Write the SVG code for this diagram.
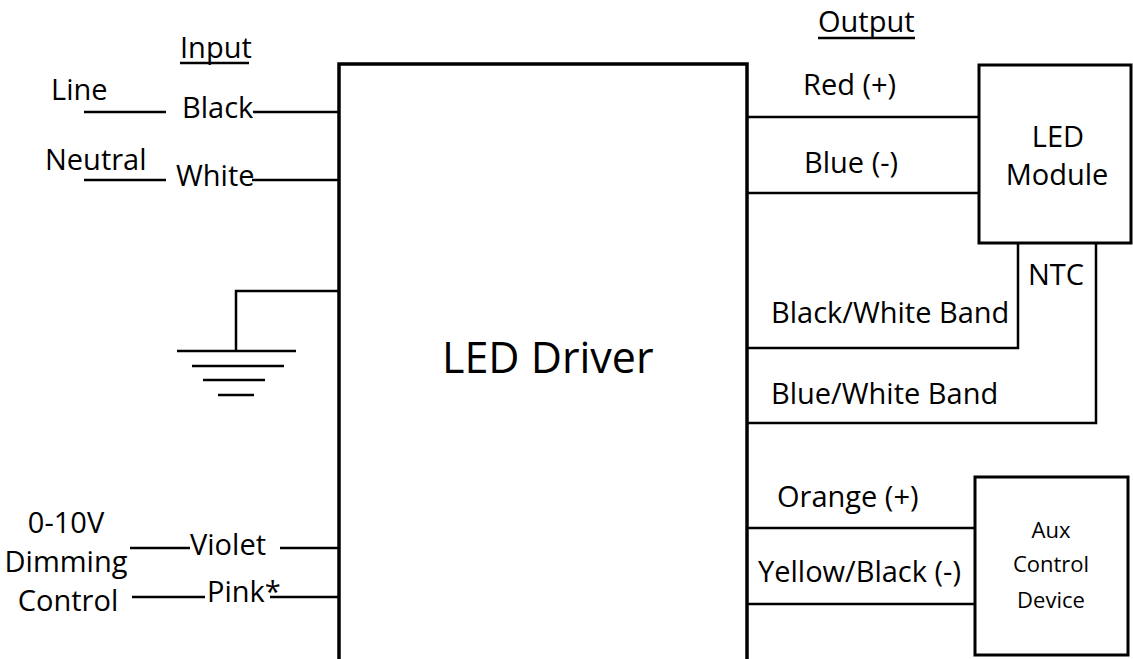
<svg xmlns="http://www.w3.org/2000/svg" width="1133" height="659" viewBox="0 0 1133 659">
<style>
text{font-family:"Open Sans","Noto Sans","DejaVu Sans",sans-serif;fill:#000;font-size:29px}
.w{stroke:#000;stroke-width:2.5;fill:none}
.box{stroke:#000;stroke-width:3;fill:#fff}
.big{font-size:43px}
.sm{font-size:22px}
.c{text-anchor:middle}
</style>
<rect width="1133" height="659" fill="#fff"/>
<g id="connectors">
<path class="w" d="M84 112H166M253 112H339"/>
<path class="w" d="M84 180H166M252 180H339"/>
<path class="w" d="M339 291H236V351"/>
<path class="w" d="M177 351H296M192 366H284M203 380H265M218 395H254"/>
<path class="w" d="M130 548H190M280 548H339"/>
<path class="w" d="M132 597H205M270 597H339"/>
<path class="w" d="M747 117H979M747 193H979"/>
<path class="w" d="M1018 243V348H747M1096 243V423H747"/>
<path class="w" d="M747 528H975M747 604H975"/>
<path class="w" d="M180 63H249M818 38H915"/>
</g>
<g id="driver">
<path d="M339 662V64H747V662" fill="none" stroke="#000" stroke-width="3.5"/>
<text class="big" x="442" y="373">LED Driver</text>
</g>
<g id="led-module">
<rect class="box" x="979" y="65" width="152" height="178"/>
<text class="c" x="1058" y="147">LED</text>
<text class="c" x="1057" y="185">Module</text>
</g>
<g id="aux-device">
<rect class="box" x="975" y="477" width="153" height="178"/>
<text class="c sm" x="1051" y="538">Aux</text>
<text class="c sm" x="1051" y="572">Control</text>
<text class="c sm" x="1051" y="608">Device</text>
</g>
<g id="labels">
<text x="180" y="58">Input</text>
<text x="818" y="32">Output</text>
<text x="51" y="100">Line</text>
<text x="182" y="118">Black</text>
<text x="45" y="170">Neutral</text>
<text x="176" y="186">White</text>
<text class="c" x="66" y="533">0-10V</text>
<text class="c" x="66" y="572">Dimming</text>
<text class="c" x="68" y="611">Control</text>
<text x="190" y="555">Violet</text>
<text x="207" y="602">Pink*</text>
<text x="803" y="95">Red (+)</text>
<text x="804" y="173">Blue (-)</text>
<text x="1028" y="285">NTC</text>
<text x="771" y="323">Black/White Band</text>
<text x="771" y="404">Blue/White Band</text>
<text x="777" y="507">Orange (+)</text>
<text x="758" y="582">Yellow/Black (-)</text>
</g>
</svg>
